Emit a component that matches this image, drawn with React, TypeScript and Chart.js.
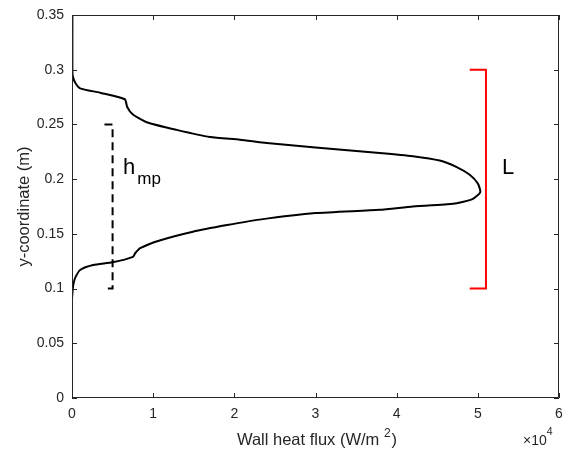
import React, { useEffect, useRef } from "react";
import { Chart, registerables } from "chart.js";

Chart.register(...registerables);

// Wall heat flux (W/m^2) vs y-coordinate (m)
const heatFlux: number[] = [
  0, 0, 100, 200, 400, 1000, 2600, 5000, 7500, 7800, 8400, 10800, 14900,
  19100, 23100, 30000, 37900, 42000, 46200, 47400, 49400, 50300, 50000,
  49000, 47400, 45300, 42000, 37900, 30000, 24000, 20700, 17000, 12900,
  9200, 7500, 6800, 6500, 3450, 1000, 400, 100, 50, 50,
];
const yCoord: number[] = [
  0.025, 0.09, 0.1, 0.105, 0.11, 0.117, 0.1215, 0.124, 0.129, 0.1325,
  0.137, 0.144, 0.152, 0.158, 0.163, 0.169, 0.172, 0.175, 0.177, 0.178,
  0.182, 0.188, 0.196, 0.204, 0.211, 0.217, 0.221, 0.224, 0.229, 0.233,
  0.236, 0.2385, 0.245, 0.252, 0.259, 0.266, 0.273, 0.279, 0.283, 0.288,
  0.294, 0.3, 0.35,
];

// Brackets
const hmpX: number[] = [4000, 5000, 5000, 4000];
const hmpY: number[] = [0.25, 0.25, 0.1, 0.1];
const lX: number[] = [49000, 51000, 51000, 49000];
const lY: number[] = [0.3, 0.3, 0.1, 0.1];

const xTicks: number[] = [0, 10000, 20000, 30000, 40000, 50000, 60000];
const yTicks: number[] = [0, 0.05, 0.1, 0.15, 0.2, 0.25, 0.3, 0.35];

const FONT = '"Liberation Sans", Arial, sans-serif';
const AX = "#262626";

const pts = (xs: number[], ys: number[]) => xs.map((x, i) => ({ x, y: ys[i] }));

const decor = {
  id: "decor",
  afterDraw(chart: any) {
    const { ctx, chartArea: a, scales } = chart;
    const xs = scales.x;
    const ys = scales.y;
    ctx.save();
    ctx.strokeStyle = AX;
    ctx.lineWidth = 1;
    ctx.beginPath();
    ctx.rect(a.left + 0.5, a.top + 0.5, a.right - a.left - 1, a.bottom - a.top - 1);
    ctx.stroke();
    const tl = 5;
    ctx.beginPath();
    xTicks.forEach((v) => {
      const p = Math.round(xs.getPixelForValue(v)) + 0.5;
      ctx.moveTo(p, a.bottom);
      ctx.lineTo(p, a.bottom - tl);
      ctx.moveTo(p, a.top);
      ctx.lineTo(p, a.top + tl);
    });
    yTicks.forEach((v) => {
      const p = Math.round(ys.getPixelForValue(v)) + 0.5;
      ctx.moveTo(a.left, p);
      ctx.lineTo(a.left + tl, p);
      ctx.moveTo(a.right, p);
      ctx.lineTo(a.right - tl, p);
    });
    ctx.stroke();

    // x title with superscript
    ctx.fillStyle = AX;
    ctx.textBaseline = "alphabetic";
    ctx.textAlign = "left";
    const big = `16.5px ${FONT}`;
    const small = `12px ${FONT}`;
    const t1 = "Wall heat flux (W/m ";
    const t2 = "2";
    const t3 = ")";
    ctx.font = big;
    const w1 = ctx.measureText(t1).width;
    const w3 = ctx.measureText(t3).width;
    ctx.font = small;
    const w2 = ctx.measureText(t2).width;
    const total = w1 + w2 + w3;
    const cx = (a.left + a.right) / 2 + 1;
    const x0 = cx - total / 2;
    const by = 445;
    ctx.font = big;
    ctx.fillText(t1, x0, by);
    ctx.font = small;
    ctx.fillText(t2, x0 + w1, by - 8);
    ctx.font = big;
    ctx.fillText(t3, x0 + w1 + w2 + 1, by);

    // exponent
    ctx.font = `14px ${FONT}`;
    ctx.fillText("\u00d710", 523, 445);
    const we = ctx.measureText("\u00d710").width;
    ctx.font = `10.5px ${FONT}`;
    ctx.fillText("4", 523 + we, 435);

    // y title
    ctx.save();
    ctx.translate(29, (a.top + a.bottom) / 2);
    ctx.rotate(-Math.PI / 2);
    ctx.textAlign = "center";
    ctx.font = big;
    ctx.fillText("y-coordinate (m)", 0, 0);
    ctx.restore();

    // annotations
    ctx.fillStyle = "#000";
    ctx.textAlign = "left";
    ctx.font = `22px ${FONT}`;
    ctx.fillText("h", 123, 174);
    const wh = ctx.measureText("h").width;
    ctx.font = `17px ${FONT}`;
    ctx.fillText("mp", 123 + wh + 2, 184);
    ctx.font = `22px ${FONT}`;
    ctx.fillText("L", 502, 174);
    ctx.restore();
  },
};

export default function App() {
  const ref = useRef<HTMLCanvasElement | null>(null);
  useEffect(() => {
    document.body.style.margin = "0";
    const chart = new Chart(ref.current as HTMLCanvasElement, {
      type: "scatter",
      data: {
        datasets: [
          {
            data: pts(heatFlux, yCoord),
            showLine: true,
            borderColor: "#000",
            borderWidth: 2,
            pointRadius: 0,
            tension: 0.2,
          },
          {
            data: pts(hmpX, hmpY),
            showLine: true,
            borderColor: "#000",
            borderWidth: 2,
            borderDash: [8, 5],
            pointRadius: 0,
          },
          {
            data: pts(lX, lY),
            showLine: true,
            borderColor: "#ff0000",
            borderWidth: 2,
            pointRadius: 0,
          },
        ],
      },
      options: {
        animation: false,
        responsive: false,
        maintainAspectRatio: false,
        layout: { padding: { top: 15, right: 8, left: 0, bottom: 0 } },
        plugins: { legend: { display: false }, tooltip: { enabled: false } },
        scales: {
          x: {
            type: "linear",
            min: 0,
            max: 60000,
            afterBuildTicks: (s: any) => {
              s.ticks = xTicks.map((v) => ({ value: v }));
            },
            afterFit: (s: any) => {
              s.height = 55;
              s.paddingLeft = 0;
              s.paddingRight = 0;
            },
            grid: { display: false },
            border: { display: false },
            ticks: {
              color: AX,
              font: { family: FONT, size: 14 },
              padding: 0,
              maxRotation: 0,
              callback: (v: any) => String(Number(v) / 10000),
            },
          },
          y: {
            type: "linear",
            min: 0,
            max: 0.35,
            afterBuildTicks: (s: any) => {
              s.ticks = yTicks.map((v) => ({ value: v }));
            },
            afterFit: (s: any) => {
              s.width = 72;
              s.paddingTop = 0;
              s.paddingBottom = 0;
            },
            grid: { display: false },
            border: { display: false },
            ticks: {
              color: AX,
              font: { family: FONT, size: 14 },
              padding: 0,
              callback: (v: any) => String(Number(Number(v).toFixed(2))),
            },
          },
        },
      },
      plugins: [decor],
    });
    return () => chart.destroy();
  }, []);
  return (
    <div style={{ width: 567, height: 453, background: "#fff" }}>
      <canvas ref={ref} width={567} height={453} style={{ display: "block" }} />
    </div>
  );
}
